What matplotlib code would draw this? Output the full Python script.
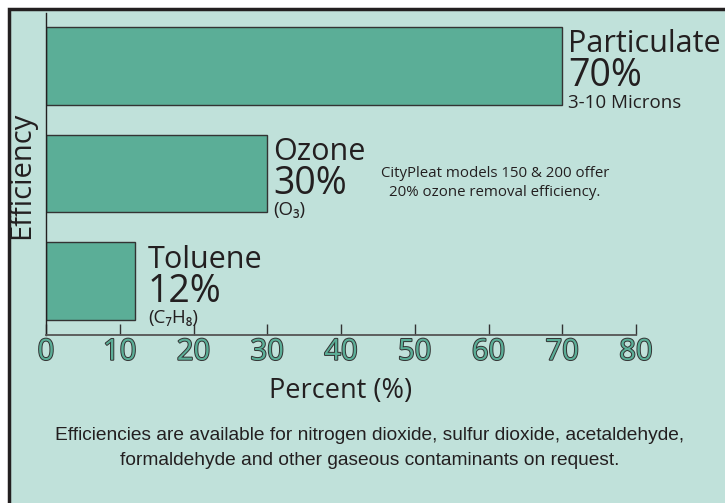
import matplotlib.pyplot as plt
import matplotlib.patheffects as pe
from matplotlib.patches import Rectangle

# Data
gases = ['Toluene', 'Ozone', 'Particulate']
efficiency = [12, 30, 70]
notes = ['(C₇H₈)', '(O₃)', '3-10 Microns']
x_ticks = [0, 10, 20, 30, 40, 50, 60, 70, 80]
ozone_note = ['CityPleat models 150 & 200 offer', '20% ozone removal efficiency.']
footer = ['Efficiencies are available for nitrogen dioxide, sulfur dioxide, acetaldehyde,',
          'formaldehyde and other gaseous contaminants on request.']

W, H = 725, 503
bg = '#c0e1da'
bar_color = '#5bae97'
dark = '#231f20'
narrow = ['Liberation Sans Narrow', 'Liberation Sans', 'DejaVu Sans']

plt.rcParams['font.family'] = ['Open Sans', 'DejaVu Sans']

fig = plt.figure(figsize=(W / 100, H / 100), dpi=100)
fig.patch.set_facecolor('white')
# teal panel, black border on top and left, runs off right and bottom
fig.patches.append(Rectangle((9 / W, -0.05), 1.2, 1 - 9 / H + 0.05,
                             transform=fig.transFigure, facecolor=bg,
                             edgecolor=dark, linewidth=2.5, zorder=-10))

ax = fig.add_axes([46 / W, 168 / H, 590 / W, 322 / H])
ax.set_facecolor('none')

ypos = list(range(len(gases)))
ax.barh(ypos, efficiency, height=0.72, color=bar_color, edgecolor='#333333', linewidth=1.0)

ax.set_xlim(0, 80)
ax.set_ylim(-0.5, 2.49)
ax.set_yticks([])
ax.set_xticks(x_ticks)
ax.set_xticklabels([str(t) for t in x_ticks])
ax.tick_params(axis='x', direction='in', length=8, width=1, color='#333333', pad=2,
               labelsize=21, labelcolor=bar_color)
for lab in ax.get_xticklabels():
    lab.set_path_effects([pe.withStroke(linewidth=1.4, foreground='#333333')])

for s in ['top', 'right']:
    ax.spines[s].set_visible(False)
ax.spines['bottom'].set_color('#555555')
ax.spines['left'].set_color(dark)
ax.spines['bottom'].set_linewidth(1.3)
ax.spines['left'].set_linewidth(1.0)

ax.set_xlabel('Percent (%)', fontsize=19.5, color=dark, labelpad=7)
fig.text(22 / W, 1 - 175 / H, 'Efficiency', rotation=90, fontsize=21, color=dark,
         ha='center', va='center')

# labels next to each bar: name, percentage, small note
offsets = [1.8, 0.8, 0.8]
for y, v, name, note, dx in zip(ypos, efficiency, gases, notes, offsets):
    ax.text(v + dx, y + 0.124, name, fontsize=22, color=dark, va='baseline', ha='left')
    ax.text(v + dx, y - 0.19, f'{v}%', fontsize=27, color=dark, va='baseline', ha='left')
    ax.text(v + dx, y - 0.39, note, fontsize=13.5, color=dark, va='baseline', ha='left')

for line, yb in zip(ozone_note, [177, 196.5]):
    fig.text(495 / W, 1 - yb / H, line, fontsize=10.8, color=dark,
             ha='center', va='baseline')

for line, yb in zip(footer, [440, 465]):
    fig.text(370 / W, 1 - yb / H, line, fontsize=13.8, color=dark,
             ha='center', va='baseline', family=narrow)

fig.savefig('out.png', dpi=100, facecolor='white')
